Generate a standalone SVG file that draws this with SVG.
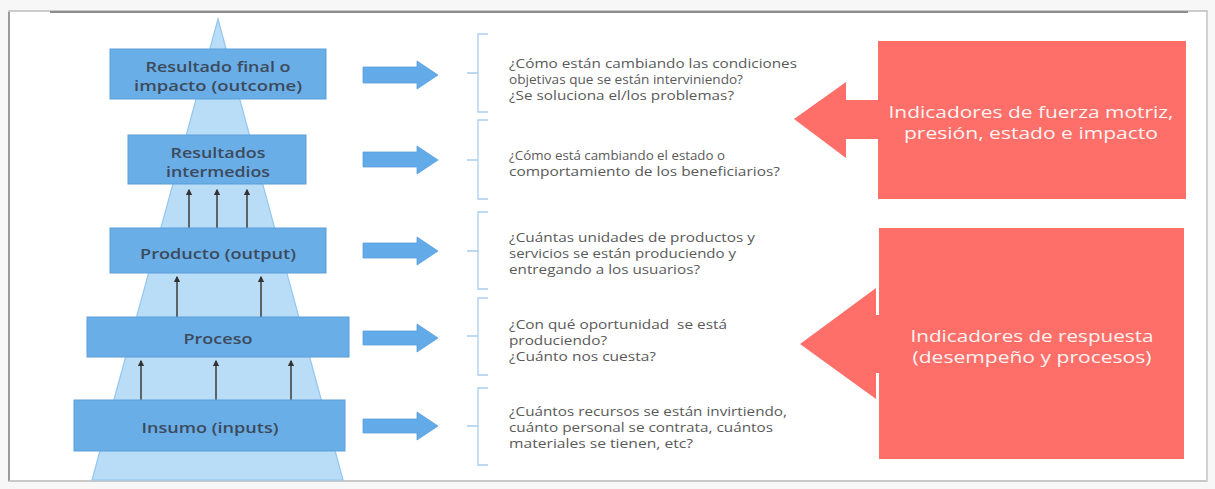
<svg xmlns="http://www.w3.org/2000/svg" width="1215" height="489" viewBox="0 0 1215 489">
<defs>
<style>
.lvl{fill:#6AAEE7;stroke:#5B9FD9;stroke-width:1}
.lt{font-family:"Open Sans","Liberation Sans",sans-serif;font-size:15px;font-weight:600;fill:#3C4A5C;text-anchor:middle}
.q{font-family:"Open Sans","Liberation Sans",sans-serif;font-size:12.5px;fill:#5A5A5A}
.br{fill:none;stroke:#A9CDEE;stroke-width:1.3}
.ba{fill:#62AAE8;stroke:#5A9FDC;stroke-width:0.8}
.up{stroke:#454545;stroke-width:1.6;marker-end:url(#ah)}
.red{fill:#FE6F6A}
.rt{font-family:"Open Sans","Liberation Sans",sans-serif;font-size:17px;fill:#FFF3F1;text-anchor:middle}
</style>
<marker id="ah" viewBox="0 0 10 10" refX="8" refY="5" markerWidth="4" markerHeight="4" orient="auto">
<path d="M0,0 L10,5 L0,10 z" fill="#333"/>
</marker>
</defs>
<rect width="1215" height="489" fill="#F7F7F7"/>
<rect id="frame" x="9" y="11" width="1198" height="470" fill="#FFFFFF" stroke="#BDBDBD" stroke-width="1.5"/>
<line x1="50" y1="12" x2="1188" y2="12" stroke="#8C8C8C" stroke-width="2"/>
<line x1="9" y1="12" x2="9" y2="481" stroke="#9A9A9A" stroke-width="2"/>
<line x1="9" y1="481" x2="1207" y2="481" stroke="#C8C8C8" stroke-width="2"/>
<line x1="1207" y1="12" x2="1207" y2="481" stroke="#D2D2D2" stroke-width="2"/>

<g id="pyramid">
<polygon points="218,19 92,480 343,480" fill="#B9DDF7" stroke="#93C7EF" stroke-width="1.2"/>
</g>

<g id="connectors">
<line class="up" x1="189" y1="228" x2="189" y2="190"/>
<line class="up" x1="217" y1="228" x2="217" y2="190"/>
<line class="up" x1="247" y1="228" x2="247" y2="190"/>
<line class="up" x1="177" y1="317" x2="177" y2="277"/>
<line class="up" x1="261" y1="317" x2="261" y2="277"/>
<line class="up" x1="141" y1="400" x2="141" y2="361"/>
<line class="up" x1="216" y1="400" x2="216" y2="361"/>
<line class="up" x1="291" y1="400" x2="291" y2="361"/>
<path class="ba" d="M363,67 H417 V61 L438,75 L417,89 V83 H363 Z"/>
<path class="ba" d="M363,152 H417 V146 L438,160 L417,174 V167 H363 Z"/>
<path class="ba" d="M363,243 H417 V237 L438,251 L417,265 V258 H363 Z"/>
<path class="ba" d="M363,331 H417 V324 L438,338 L417,352 V345 H363 Z"/>
<path class="ba" d="M363,419 H417 V412 L438,426 L417,440 V433 H363 Z"/>
</g>

<g id="n-outcome">
<rect class="lvl" x="110" y="49" width="216" height="50"/>
<text class="lt" x="218" y="72" textLength="145" lengthAdjust="spacingAndGlyphs">Resultado final o</text>
<text class="lt" x="218" y="91" textLength="168" lengthAdjust="spacingAndGlyphs">impacto (outcome)</text>
</g>
<g id="n-intermedios">
<rect class="lvl" x="128" y="135" width="178" height="49"/>
<text class="lt" x="218" y="158" textLength="95" lengthAdjust="spacingAndGlyphs">Resultados</text>
<text class="lt" x="218" y="177" textLength="104" lengthAdjust="spacingAndGlyphs">intermedios</text>
</g>
<g id="n-producto">
<rect class="lvl" x="110" y="228" width="216" height="45"/>
<text class="lt" x="218" y="259" textLength="156" lengthAdjust="spacingAndGlyphs">Producto (output)</text>
</g>
<g id="n-proceso">
<rect class="lvl" x="87" y="317" width="262" height="40"/>
<text class="lt" x="218" y="344" textLength="69" lengthAdjust="spacingAndGlyphs">Proceso</text>
</g>
<g id="n-insumo">
<rect class="lvl" x="74" y="400" width="271" height="51"/>
<text class="lt" x="210" y="433" textLength="137" lengthAdjust="spacingAndGlyphs">Insumo (inputs)</text>
</g>

<g id="q-outcome">
<path class="br" d="M488,34 H478 V112 H488 M467,73 H478"/>
<text class="q" x="509" y="67.5" textLength="288" lengthAdjust="spacingAndGlyphs">¿Cómo están cambiando las condiciones</text>
<text class="q" x="509" y="83.5" textLength="234" lengthAdjust="spacingAndGlyphs">objetivas que se están interviniendo?</text>
<text class="q" x="509" y="99.5" textLength="225" lengthAdjust="spacingAndGlyphs">¿Se soluciona el/los problemas?</text>
</g>
<g id="q-intermedios">
<path class="br" d="M488,120 H478 V199 H488 M467,160 H478"/>
<text class="q" x="509" y="160" textLength="216" lengthAdjust="spacingAndGlyphs">¿Cómo está cambiando el estado o</text>
<text class="q" x="509" y="176" textLength="271" lengthAdjust="spacingAndGlyphs">comportamiento de los beneficiarios?</text>
</g>
<g id="q-producto">
<path class="br" d="M488,212 H478 V289 H488 M467,251 H478"/>
<text class="q" x="509" y="241.5" textLength="246" lengthAdjust="spacingAndGlyphs">¿Cuántas unidades de productos y</text>
<text class="q" x="509" y="257.5" textLength="227" lengthAdjust="spacingAndGlyphs">servicios se están produciendo y</text>
<text class="q" x="509" y="273.5" textLength="191" lengthAdjust="spacingAndGlyphs">entregando a los usuarios?</text>
</g>
<g id="q-proceso">
<path class="br" d="M488,298 H478 V375 H488 M467,336 H478"/>
<text class="q" x="509" y="328.5" textLength="218" lengthAdjust="spacingAndGlyphs" xml:space="preserve">¿Con qué oportunidad  se está</text>
<text class="q" x="509" y="344.5" textLength="98" lengthAdjust="spacingAndGlyphs">produciendo?</text>
<text class="q" x="509" y="360.5" textLength="147" lengthAdjust="spacingAndGlyphs">¿Cuánto nos cuesta?</text>
</g>
<g id="q-insumo">
<path class="br" d="M488,388 H478 V465 H488 M467,426 H478"/>
<text class="q" x="509" y="415.5" textLength="278" lengthAdjust="spacingAndGlyphs">¿Cuántos recursos se están invirtiendo,</text>
<text class="q" x="509" y="431.5" textLength="264" lengthAdjust="spacingAndGlyphs">cuánto personal se contrata, cuántos</text>
<text class="q" x="509" y="447.5" textLength="184" lengthAdjust="spacingAndGlyphs">materiales se tienen, etc?</text>
</g>

<g id="ind-impacto">
<rect class="red" x="878" y="41" width="308" height="158"/>
<path class="red" d="M880,100 H846 V82 L794,119 L846,158 V139 H880 Z"/>
<text class="rt" x="1031" y="118" textLength="285" lengthAdjust="spacingAndGlyphs">Indicadores de fuerza motriz,</text>
<text class="rt" x="1031" y="139" textLength="254" lengthAdjust="spacingAndGlyphs">presión, estado e impacto</text>
</g>
<g id="ind-respuesta">
<rect class="red" x="879" y="228" width="305" height="231"/>
<path class="red" d="M881,315 H876 V288 L800,344 L876,399 V373 H881 Z"/>
<line x1="877.5" y1="288" x2="877.5" y2="315" stroke="#FFFFFF" stroke-width="2.5"/>
<line x1="877.5" y1="373" x2="877.5" y2="399" stroke="#FFFFFF" stroke-width="2.5"/>
<text class="rt" x="1032" y="342" textLength="243" lengthAdjust="spacingAndGlyphs">Indicadores de respuesta</text>
<text class="rt" x="1032" y="363" textLength="239" lengthAdjust="spacingAndGlyphs">(desempeño y procesos)</text>
</g>
</svg>
